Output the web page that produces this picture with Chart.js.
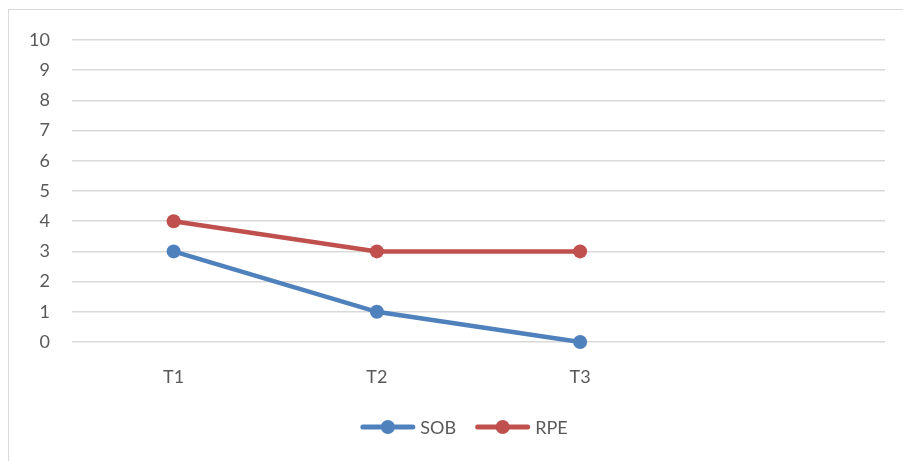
<!DOCTYPE html>
<html>
<head>
<meta charset="utf-8">
<script src="https://cdn.jsdelivr.net/npm/chart.js@4.4.1/dist/chart.umd.min.js"></script>
<style>
  html, body { margin: 0; padding: 0; background: #fff; }
  #wrap { position: relative; width: 903px; height: 461px; overflow: hidden; }
  #frame { position: absolute; left: 8px; top: 9px; width: 1000px; height: 1000px;
           border: 1px solid #d9d9d9; box-sizing: border-box; }
  canvas { position: absolute; left: 0; top: 0; }
</style>
</head>
<body>
<div id="wrap">
  <div id="frame"></div>
  <canvas id="c" width="903" height="461"></canvas>
</div>
<script>
// Time points (the fourth slot is left empty on the axis)
const categories = ['T1', 'T2', 'T3', ''];
const sobValues = [3, 1, 0, null];
const rpeValues = [4, 3, 3, null];
const yTicks = [0, 1, 2, 3, 4, 5, 6, 7, 8, 9, 10];

const FONT = "Lato, 'Open Sans', 'Liberation Sans', sans-serif";
const TEXT = '#595959';

const lineStyle = {
  borderWidth: 4.5, pointRadius: 7, pointHoverRadius: 7, pointBorderWidth: 0,
  tension: 0, clip: false
};

// Legend below the axis: line-with-dot swatch followed by the series name
const lineLegend = {
  id: 'lineLegend',
  afterDraw(chart) {
    const ctx = chart.ctx;
    const sw = 55, gapText = 5, gapItem = 19, cy = 427, centerX = 464;
    ctx.save();
    ctx.font = '18px ' + FONT;
    ctx.textBaseline = 'middle';
    const items = chart.data.datasets.map(ds => ({
      label: ds.label, color: ds.borderColor, w: ctx.measureText(ds.label).width
    }));
    const total = items.reduce((s, it) => s + sw + gapText + it.w, 0) + gapItem * (items.length - 1);
    let x = centerX - total / 2;
    items.forEach(it => {
      ctx.strokeStyle = it.color; ctx.lineWidth = 5; ctx.lineCap = 'round';
      ctx.beginPath(); ctx.moveTo(x + 2.5, cy); ctx.lineTo(x + sw - 2.5, cy); ctx.stroke();
      ctx.fillStyle = it.color;
      ctx.beginPath(); ctx.arc(x + sw / 2, cy, 7, 0, Math.PI * 2); ctx.fill();
      ctx.fillStyle = TEXT;
      ctx.fillText(it.label, x + sw + gapText, cy + 1);
      x += sw + gapText + it.w + gapItem;
    });
    ctx.restore();
  }
};

new Chart(document.getElementById('c'), {
  type: 'line',
  data: {
    labels: categories,
    datasets: [
      Object.assign({ label: 'SOB', data: sobValues, borderColor: '#4f81bd', backgroundColor: '#4f81bd' }, lineStyle),
      Object.assign({ label: 'RPE', data: rpeValues, borderColor: '#c0504d', backgroundColor: '#c0504d' }, lineStyle)
    ]
  },
  plugins: [lineLegend],
  options: {
    responsive: false,
    animation: false,
    layout: { padding: { top: 40, right: 18, bottom: 0, left: 0 } },
    plugins: {
      tooltip: { enabled: false },
      legend: { display: false }
    },
    scales: {
      x: {
        offset: true,
        grid: { display: false, drawTicks: false },
        border: { display: false },
        ticks: { color: TEXT, font: { family: FONT, size: 18 }, padding: 24, maxRotation: 0 },
        afterFit(scale) { scale.height = 119; }
      },
      y: {
        min: 0, max: 10,
        afterBuildTicks(scale) { scale.ticks = yTicks.map(v => ({ value: v })); },
        grid: { color: '#d9d9d9', lineWidth: 1.5, drawTicks: false },
        border: { display: false },
        ticks: { color: TEXT, font: { family: FONT, size: 18 }, padding: 22 },
        afterFit(scale) { scale.width = 72; }
      }
    }
  }
});
</script>
</body>
</html>
